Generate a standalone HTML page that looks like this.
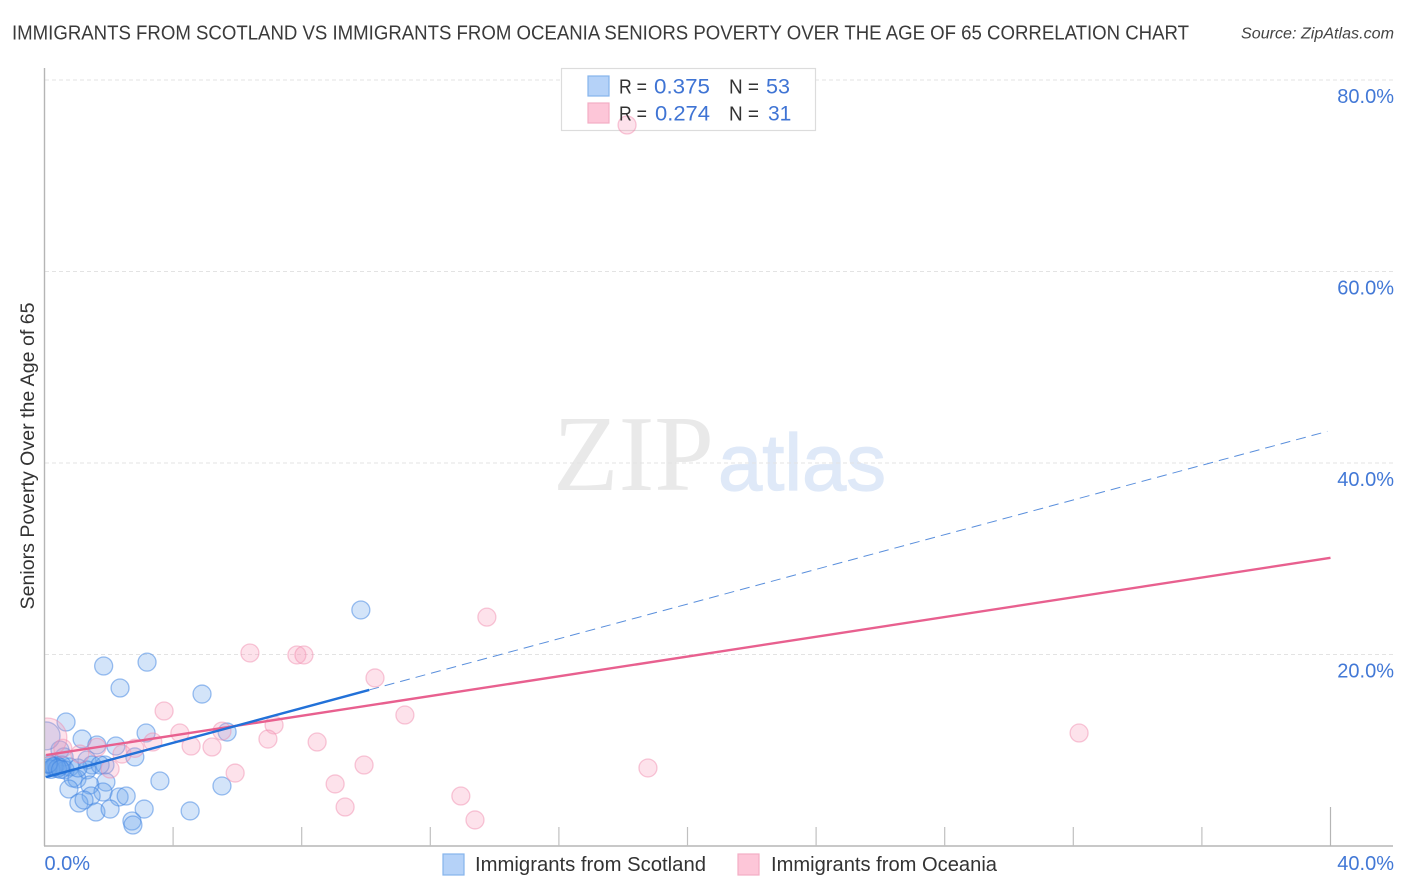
<!DOCTYPE html>
<html>
<head>
<meta charset="utf-8">
<title>Immigrants from Scotland vs Immigrants from Oceania Correlation Chart</title>
<style>
html,body{margin:0;padding:0;background:#fff;width:1406px;height:892px;overflow:hidden}
svg{display:block}
text{font-family:"Liberation Sans",sans-serif}
</style>
</head>
<body>
<svg id="chart" width="1406" height="892" viewBox="0 0 1406 892" xmlns="http://www.w3.org/2000/svg">
  <rect x="0" y="0" width="1406" height="892" fill="#fff"></rect>
  <text x="12" y="39.5" font-size="20" fill="#3a3a3a" textLength="1177" lengthAdjust="spacingAndGlyphs">IMMIGRANTS FROM SCOTLAND VS IMMIGRANTS FROM OCEANIA SENIORS POVERTY OVER THE AGE OF 65 CORRELATION CHART</text>
  <text x="1241" y="38.5" font-size="15.5" font-style="italic" fill="#444" textLength="153" lengthAdjust="spacingAndGlyphs">Source: ZipAtlas.com</text>
  <g>
    <text x="553" y="490" font-size="108" fill="#e9e9e9" style="font-family:'Liberation Serif',serif" textLength="161" lengthAdjust="spacingAndGlyphs">ZIP</text>
    <text x="718" y="490" font-size="80" fill="#dfe9f8" stroke="#dfe9f8" stroke-width="1.2" textLength="168" lengthAdjust="spacingAndGlyphs">atlas</text>
  </g>
  <g id="grid"></g>
  <rect x="561.5" y="68.5" width="254" height="62" fill="#fff" stroke="#dcdcdc" stroke-width="1.2"></rect>
  <g id="points-scotland"></g>
  <g id="points-oceania"></g>
  <g id="trends"></g>
  <rect x="0" y="60" width="44" height="800" fill="#fff"></rect>
  <g id="axes"></g>
  <g font-size="20">
    <rect x="588" y="76" width="21" height="20" fill="#b5d2f8" stroke="#86b4ec" stroke-width="1.2"></rect>
    <text x="619" y="93.5" fill="#333" textLength="28" lengthAdjust="spacingAndGlyphs">R =</text>
    <text x="654" y="93.5" fill="#3f74d4" font-size="21" textLength="56" lengthAdjust="spacingAndGlyphs">0.375</text>
    <text x="729" y="93.5" fill="#333" textLength="30" lengthAdjust="spacingAndGlyphs">N =</text>
    <text x="766" y="93.5" fill="#3f74d4" font-size="21" textLength="24" lengthAdjust="spacingAndGlyphs">53</text>
    <rect x="588" y="103" width="21" height="20" fill="#fdc6d8" stroke="#f3adc4" stroke-width="1.2"></rect>
    <text x="619" y="120.5" fill="#333" textLength="28" lengthAdjust="spacingAndGlyphs">R =</text>
    <text x="655" y="120.5" fill="#3f74d4" font-size="21" textLength="55" lengthAdjust="spacingAndGlyphs">0.274</text>
    <text x="729" y="120.5" fill="#333" textLength="30" lengthAdjust="spacingAndGlyphs">N =</text>
    <text x="768" y="120.5" fill="#3f74d4" font-size="21">31</text>
  </g>
  <g id="labels"></g>
  <text transform="translate(34,456) rotate(-90)" text-anchor="middle" font-size="19.5" fill="#333" textLength="307" lengthAdjust="spacingAndGlyphs">Seniors Poverty Over the Age of 65</text>
  <g>
    <rect x="443" y="854" width="21" height="21" fill="#b5d2f8" stroke="#86b4ec" stroke-width="1.2"></rect>
    <text x="475" y="871" font-size="20" fill="#333" textLength="231" lengthAdjust="spacingAndGlyphs">Immigrants from Scotland</text>
    <rect x="738" y="854" width="21" height="21" fill="#fdc6d8" stroke="#f3adc4" stroke-width="1.2"></rect>
    <text x="771" y="871" font-size="20" fill="#333" textLength="226" lengthAdjust="spacingAndGlyphs">Immigrants from Oceania</text>
  </g>
</svg>
<script>
const yTickValues = [20, 40, 60, 80];
const xMinorTicks = [4, 8, 12, 16, 20, 24, 28, 32, 36];
const xMajorTicks = [40];
const yTickLabels = ["20.0%", "40.0%", "60.0%", "80.0%"];
const xEdgeValues = [0, 40];
const xEdgeLabels = ["0.0%", "40.0%"];

const scotlandX = [9.84,1.84,3.19,2.35,4.9,0.67,3.16,5.68,1.17,1.63,2.22,0.48,2.81,0.61,1.32,1.48,1.88,1.73,1.32,0.79,0.17,0.26,0.36,0.45,0.54,0.11,0.64,0.89,1.01,1.91,1.41,3.59,5.52,0.76,1.82,1.45,2.32,2.54,1.07,1.23,1.6,2.04,3.1,4.53,2.72,2.75,1.04,0.2,0.3,0.4,0.12,0.5,0.05];
const scotlandY = [24.65,18.8,19.2,16.5,15.87,12.95,11.8,11.9,11.17,10.55,10.44,10.03,9.3,9.3,8.98,8.46,8.46,8.46,7.94,8.25,8.46,8.25,8.46,8.25,8.46,8.15,7.94,7.1,7.0,6.68,6.37,6.79,6.27,5.95,5.64,5.22,5.12,5.22,4.49,4.8,3.55,3.86,3.86,3.66,2.61,2.19,8.15,8.0,8.3,8.1,8.6,8.0,11.5];
const scotlandWeight = [1,1,1,1,1,1,1,1,1,1,1,1,1,1,1,1,1,1,1,1,1,1,1,1,1,1,1,1,1,1,1,1,1,1,1,1,1,1,1,1,1,1,1,1,1,1,1,1,1,1,1,1,1.55];

const oceaniaX = [18.12,13.76,6.39,7.85,8.07,10.28,11.21,3.72,4.21,4.56,5.21,5.52,7.14,6.95,8.48,3.37,5.93,9.04,9.94,9.35,12.95,13.39,18.77,32.18,2.04,2.41,2.81,1.63,1.1,0.57,0.08];
const oceaniaY = [75.3,23.9,20.16,19.95,19.95,17.55,13.68,14.1,11.8,10.44,10.34,12.0,12.64,11.17,10.86,10.86,7.62,6.48,8.46,4.07,5.22,2.72,8.15,11.8,8.04,9.6,10.2,10.3,9.6,10.2,11.3];
const oceaniaWeight = [1,1,1,1,1,1,1,1,1,1,1,1,1,1,1,1,1,1,1,1,1,1,1,1,1,1,1,1,1,1,2.2];

const scotlandTrendX = [0.05, 10.1];
const scotlandTrendY = [7.2, 16.3];
const scotlandDashX = [10.1, 39.9];
const scotlandDashY = [16.3, 43.3];
const oceaniaTrendX = [0.05, 40];
const oceaniaTrendY = [9.5, 30.1];

const xScale = v => 44.5 + v * 32.15;
const yScale = v => 846 - v * 9.575;
const NS = "http://www.w3.org/2000/svg";

function make(tag, attrs, parent) {
  const el = document.createElementNS(NS, tag);
  for (const k in attrs) el.setAttribute(k, attrs[k]);
  parent.appendChild(el);
  return el;
}

const grid = document.getElementById("grid");
const axes = document.getElementById("axes");
const labels = document.getElementById("labels");

yTickValues.forEach((v, i) => {
  const line = make("line", {x1: 45, x2: 1395, y1: yScale(v), y2: yScale(v), stroke: "#e3e3e3", "stroke-width": 1, "stroke-dasharray": "4 3"}, grid);
  
  
  const t = make("text", {x: 1394, y: yScale(v) + 23, "text-anchor": "end", "font-size": 20, fill: "#4278d6"}, labels);
  t.textContent = yTickLabels[i];
  
  
});

const yAxis = make("line", {x1: 44.5, x2: 44.5, y1: 68, y2: 846, stroke: "#b5b5b5", "stroke-width": 1.4}, axes);


const xAxis = make("line", {x1: 44, x2: 1393, y1: 846, y2: 846, stroke: "#b5b5b5", "stroke-width": 1.4}, axes);



xMinorTicks.forEach(v => {
  const tick = make("line", {x1: xScale(v), x2: xScale(v), y1: 827, y2: 846, stroke: "#c0c0c0", "stroke-width": 1.2}, axes);
  
  
});
xMajorTicks.forEach(v => {
  const tick = make("line", {x1: xScale(v), x2: xScale(v), y1: 807, y2: 846, stroke: "#b5b5b5", "stroke-width": 1.2}, axes);
  
  
});

xEdgeValues.forEach((v, i) => {
  const t = make("text", {x: i === 0 ? xScale(v) : 1394, y: 870, "text-anchor": i === 0 ? "start" : "end", "font-size": 20, fill: "#4278d6"}, labels);
  t.textContent = xEdgeLabels[i];
  
  
});

const scotlandGroup = document.getElementById("points-scotland");
scotlandX.forEach((x, i) => {
  const c = make("circle", {cx: xScale(x), cy: yScale(scotlandY[i]), r: 9 * scotlandWeight[i], fill: "rgba(110,165,235,0.3)", stroke: "rgba(60,130,225,0.5)", "stroke-width": 1.3}, scotlandGroup);
  
  
});

const oceaniaGroup = document.getElementById("points-oceania");
oceaniaX.forEach((x, i) => {
  const c = make("circle", {cx: xScale(x), cy: yScale(oceaniaY[i]), r: 9 * oceaniaWeight[i], fill: "rgba(248,160,188,0.3)", stroke: "rgba(240,135,170,0.45)", "stroke-width": 1.3}, oceaniaGroup);
  
  
});

const trends = document.getElementById("trends");
const dash = make("line", {x1: xScale(scotlandDashX[0]), y1: yScale(scotlandDashY[0]), x2: xScale(scotlandDashX[1]), y2: yScale(scotlandDashY[1]), stroke: "#5a8fdc", "stroke-width": 1, "stroke-dasharray": "10 6"}, trends);


const oceaniaLine = make("line", {x1: xScale(oceaniaTrendX[0]), y1: yScale(oceaniaTrendY[0]), x2: xScale(oceaniaTrendX[1]), y2: yScale(oceaniaTrendY[1]), stroke: "#e8608f", "stroke-width": 2.4}, trends);


const scotlandLine = make("line", {x1: xScale(scotlandTrendX[0]), y1: yScale(scotlandTrendY[0]), x2: xScale(scotlandTrendX[1]), y2: yScale(scotlandTrendY[1]), stroke: "#2271d8", "stroke-width": 2.4}, trends);


</script>
</body>
</html>
